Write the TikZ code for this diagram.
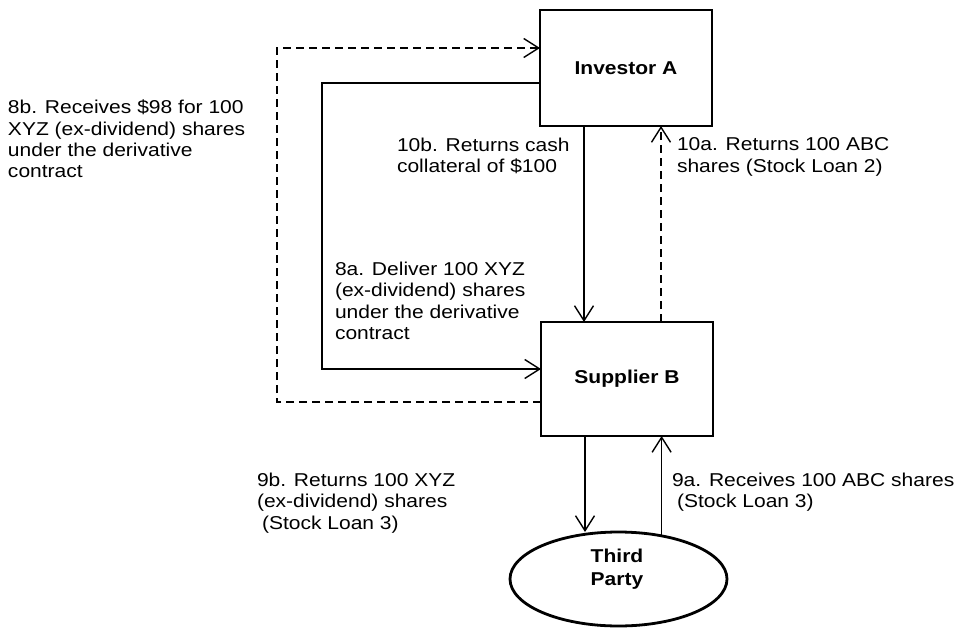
\documentclass[tikz,border=0pt]{standalone}
\usepackage{fontspec}
\setmainfont{Liberation Sans}[FakeStretch=1.13]
\usetikzlibrary{arrows.meta,shapes.geometric}
\begin{document}
\begin{tikzpicture}[x=1pt,y=-1pt,
  every node/.style={inner sep=0pt,outer sep=0pt},
  lbl/.style={anchor=north west,align=left,font=\fontsize{18.6pt}{21.3pt}\selectfont},
  bold/.style={align=center,font=\fontsize{18.6pt}{23pt}\selectfont\bfseries},
  party/.style={bold,draw,line width=2.8pt},
  conn/.style={line width=1.4pt,-{Straight Barb[length=15pt,width=19pt,line width=1.4pt]}},
  dconn/.style={conn,dash pattern=on 8pt off 5pt}]
\useasboundingbox (0,0) rectangle (958,628);
\node[party,minimum width=172pt,minimum height=116pt] (inv) at (626,68) {Investor A};
\node[party,minimum width=172pt,minimum height=114pt] (sup) at (627,379) {Supplier B};
\node[party,ellipse,minimum width=217pt,minimum height=94pt] (tp) at (618.5,579) {};
\node[bold] (tpl) at (617,569) {Third\\Party};
% routing points
\coordinate (dA) at (277,48);
\coordinate (dB) at (277,402);
\coordinate (sA) at (322,83);
\coordinate (sB) at (322,369);
\coordinate (v1) at (584,0);
\coordinate (v2) at (661,0);
\coordinate (v3) at (585,0);
% connectors
\draw[dconn] (sup.west |- dB) -- (dB) -- (dA) -- (inv.west |- dA);
\draw[conn] (inv.west |- sA) -- (sA) -- (sB) -- (sup.west |- sB);
\draw[conn] (inv.south -| v1) -- (sup.north -| v1);
\draw[dconn] (sup.north -| v2) -- (inv.south -| v2);
\draw[conn] (sup.south -| v3) -- (tp.north -| v3);
\draw[conn] (tp.45.5) -- (sup.south -| tp.45.5);
% labels
\node[lbl] (l8b) at (8,100) {8b. Receives \$98 for 100\\XYZ (ex-dividend) shares\\under the derivative\\contract};
\node[lbl] (l10b) at (397,138) {10b. Returns cash\\collateral of \$100};
\node[lbl] (l10a) at (677,138) {10a. Returns 100 ABC\\shares (Stock Loan 2)};
\node[lbl] (l8a) at (335,262) {8a. Deliver 100 XYZ\\(ex-dividend) shares\\under the derivative\\contract};
\node[lbl] (l9b) at (257,473) {9b. Returns 100 XYZ\\(ex-dividend) shares\\\hspace*{5pt}(Stock Loan 3)};
\node[lbl] (l9a) at (672,473) {9a. Receives 100 ABC shares\\\hspace*{5pt}(Stock Loan 3)};
\end{tikzpicture}
\end{document}
